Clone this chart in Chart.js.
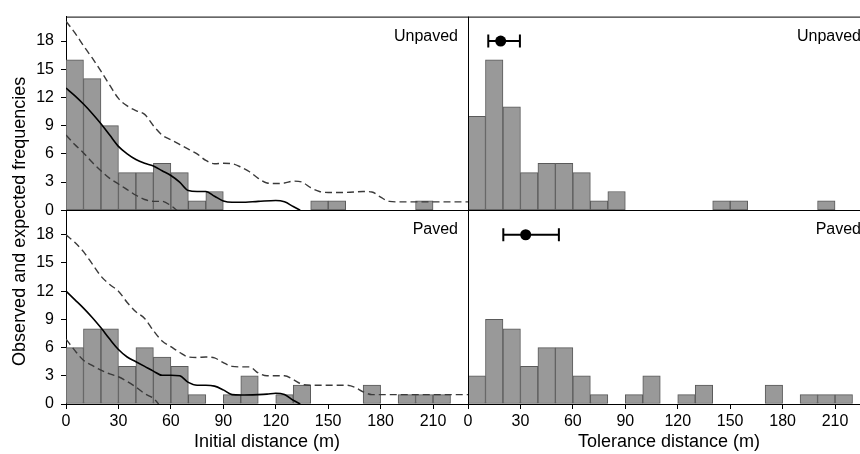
<!DOCTYPE html>
<html><head><meta charset="utf-8">
<script src="https://cdn.jsdelivr.net/npm/chart.js@4"></script>
<style>
html,body{margin:0;padding:0;background:#fff;overflow:hidden;width:860px;height:454px;}
#c{position:absolute;left:0;top:0;}
</style></head><body>
<canvas id="c" width="880" height="454"></canvas>
<script>
// ---- data ----
const binCenters = [5,15,25,35,45,55,65,75,85,95,105,115,125,135,145,155,165,175,185,195,205,215,225];
const unpavedInitial   = [16,14,9,4,4,5,4,1,2,0,0,0,0,0,1,1,0,0,0,0,1,0,0];
const unpavedTolerance = [10,16,11,4,5,5,4,1,2,0,0,0,0,0,1,1,0,0,0,0,1,0,0];
const pavedInitial     = [6,8,8,4,6,5,4,1,0,1,3,0,1,2,0,0,0,2,0,1,1,1,0];
const pavedTolerance   = [3,9,8,4,6,6,3,1,0,1,3,0,1,2,0,0,0,2,0,1,1,1,0];

const expUnpavedX = [0,5,10,15,20,25,30,35,40,45,50,55,60,65,70,75,80,85,90,95,100,110,120,125,130,134];
const expUnpavedY = [13,12.2,11.3,10.3,9.2,8.0,6.8,6.0,5.4,5.0,4.7,4.2,3.7,3.0,2.1,2.0,2.0,1.5,1.0,0.85,0.85,0.95,1.05,0.9,0.4,0];
const hiUnpavedX = [0,5,10,15,20,25,30,35,40,45,50,55,60,65,70,75,80,85,90,95,100,105,110,115,120,125,130,135,140,145,150,160,170,175,180,185,190,200,210,220,230];
const hiUnpavedY = [20.1,18.9,17.5,16.2,14.8,13.3,11.9,11.1,10.6,10.2,9.0,8.0,7.5,7.0,6.5,6.0,5.3,4.95,5.0,4.95,4.6,4.1,3.4,2.9,2.85,2.9,3.1,3.0,2.4,2.0,1.9,1.9,2.0,1.95,1.4,0.95,0.9,0.9,0.9,0.9,0.9];
const loUnpavedX = [0,5,10,15,20,25,30,35,40,45,50,55,60,63.5];
const loUnpavedY = [8.0,7.0,6.1,5.1,4.2,3.4,2.8,2.2,1.6,1.15,0.95,0.95,0.5,0];

const expPavedX = [0,5,10,15,20,25,30,35,40,45,50,55,60,65,70,75,80,85,90,95,100,110,115,120,125,130,134];
const expPavedY = [12.0,11.1,10.2,9.2,8.1,6.9,5.8,5.0,4.5,4.0,3.5,3.05,3.05,3.0,2.3,2.0,2.0,1.9,1.5,1.0,0.95,1.0,1.05,1.15,1.0,0.4,0];
const hiPavedX = [0,5,10,15,20,25,30,35,40,45,50,55,60,65,70,75,80,85,90,95,100,105,110,115,120,125,130,135,140,150,160,165,170,175,180,190,200,210,220,230];
const hiPavedY = [18,17.2,16.2,14.9,13.6,12.7,12.0,10.8,9.8,9.1,7.8,6.7,6.1,5.5,5.0,4.95,5.0,4.9,4.4,4.0,3.95,3.95,3.3,3.0,3.0,3.0,2.6,2.1,2.0,2.0,2.0,1.8,1.3,1.0,1.0,1.0,1.0,1.0,1.0,1.0];
const loPavedX = [0,5,10,15,20,25,30,35,40,45,50,53];
const loPavedY = [6.9,5.7,4.65,4.1,3.6,3.2,2.9,2.4,1.8,1.1,0.6,0];

// tolerance mean and interval [low, mean, high] at height 18
const tolUnpaved = [11.6, 18.7, 29.7];
const tolPaved   = [20.2, 33.0, 52.0];
const markerLevel = 18;

const xTicksStep = 30, yTicksStep = 3, xMax = 230, yMax = 20.6;
const panelLabels = ['Unpaved', 'Paved'];
const xTitles = ['Initial distance (m)', 'Tolerance distance (m)'];
const yTitle = 'Observed and expected frequencies';

// ---- chart ----
const FONT = '"Liberation Sans", Arial, Helvetica, sans-serif';
Chart.defaults.font.family = FONT;
Chart.defaults.color = '#000';

const pts = (xs, ys) => xs.map((x, i) => ({x, y: ys[i]}));
const bars = (vals) => binCenters.map((x, i) => ({x, y: vals[i] ? vals[i] : null}));

function barSet(vals, xa, ya) {
  return {type:'bar', data: bars(vals), xAxisID: xa, yAxisID: ya,
    backgroundColor:'#999999', borderColor:'#5a5a5a', borderWidth:1, borderSkipped:false,
    barPercentage:1, categoryPercentage:1, grouped:false};
}
function lineSet(xs, ys, xa, ya, dashed) {
  return {type:'line', data: pts(xs, ys), xAxisID: xa, yAxisID: ya,
    borderColor: dashed ? '#3a3a3a' : '#000', borderWidth: dashed ? 1.4 : 1.6,
    borderDash: dashed ? [7,4] : [], pointRadius:0, fill:false, cubicInterpolationMode:'monotone'};
}
function errSets(t, ya) {
  return [
    {type:'line', data:[{x:t[1], y:markerLevel}], xAxisID:'x2', yAxisID:ya, showLine:false,
      pointRadius:5.5, pointBackgroundColor:'#000', pointBorderColor:'#000', pointBorderWidth:0},
    {type:'line', data:[{x:t[0], y:markerLevel},{x:t[2], y:markerLevel}], xAxisID:'x2', yAxisID:ya,
      borderColor:'#000', borderWidth:2, pointStyle:'line', rotation:90, pointRadius:6.5,
      pointBorderColor:'#000', pointBorderWidth:2, fill:false}
  ];
}

const axisX = (title) => ({
  type:'linear', position:'bottom', stack:'x', stackWeight:1, min:0, max:xMax, offset:false,
  afterFit: s => { s.height = 50; },
  ticks:{stepSize:xTicksStep, includeBounds:false, autoSkip:false, maxRotation:0, font:{size:16}, padding:3, color:'#000'},
  grid:{offset:false, drawOnChartArea:false, drawTicks:true, tickLength:5, color:'#000'},
  border:{display:true, color:'#000', width:1},
  title:{display:true, text:title, font:{size:18}, color:'#000', padding:{top:0, bottom:1}}
});
const axisY = () => ({
  type:'linear', position:'left', stack:'y', stackWeight:1, min:0, max:yMax,
  afterFit: s => { s.width = 66; },
  ticks:{stepSize:yTicksStep, includeBounds:false, autoSkip:false, font:{size:16}, padding:7, color:'#000'},
  grid:{drawOnChartArea:false, drawTicks:true, tickLength:5, color:'#000'},
  border:{display:true, color:'#000', width:1}
});

const framePlugin = {
  id:'frame',
  afterDatasetsDraw(chart) {
    const c = chart.ctx, a = chart.chartArea, s = chart.scales;
    c.save();
    c.strokeStyle = '#000'; c.lineWidth = 1;
    c.beginPath();
    c.moveTo(a.left, a.top + 0.5); c.lineTo(a.right, a.top + 0.5);
    const mid = Math.round(s.yTop.bottom) + 0.5;
    c.moveTo(a.left, mid); c.lineTo(a.right, mid);
    const dv = Math.round(s.x2.left) + 0.5;
    c.moveTo(dv, a.top); c.lineTo(dv, a.bottom);
    c.moveTo(a.right - 0.5, a.top); c.lineTo(a.right - 0.5, a.bottom);
    c.stroke();
    // panel labels
    c.fillStyle = '#000';
    c.font = '16px ' + FONT;
    c.textAlign = 'right'; c.textBaseline = 'alphabetic';
    const panels = [[s.x1, s.yTop, 0], [s.x2, s.yTop, 0], [s.x1, s.yBot, 1], [s.x2, s.yBot, 1]];
    panels.forEach(([xs, ys, k]) => {
      const right = xs === s.x1 ? xs.right - 10 : xs.right - 9;
      c.fillText(panelLabels[k], right, ys.top + 24);
    });
    // y title
    c.font = '18px ' + FONT;
    c.textAlign = 'center';
    c.translate(25, (a.top + a.bottom) / 2 + 11);
    c.rotate(-Math.PI / 2);
    c.fillText(yTitle, 0, 0);
    c.restore();
  }
};

new Chart(document.getElementById('c'), {
  type:'bar',
  data:{datasets:[
    ...errSets(tolUnpaved, 'yTop'),
    ...errSets(tolPaved, 'yBot'),
    lineSet(expUnpavedX, expUnpavedY, 'x1', 'yTop', false),
    lineSet(hiUnpavedX, hiUnpavedY, 'x1', 'yTop', true),
    lineSet(loUnpavedX, loUnpavedY, 'x1', 'yTop', true),
    lineSet(expPavedX, expPavedY, 'x1', 'yBot', false),
    lineSet(hiPavedX, hiPavedY, 'x1', 'yBot', true),
    lineSet(loPavedX, loPavedY, 'x1', 'yBot', true),
    barSet(unpavedInitial, 'x1', 'yTop'),
    barSet(unpavedTolerance, 'x2', 'yTop'),
    barSet(pavedInitial, 'x1', 'yBot'),
    barSet(pavedTolerance, 'x2', 'yBot')
  ]},
  options:{
    responsive:false, animation:false, devicePixelRatio:1,
    layout:{padding:{top:12, right:10, left:0, bottom:0}},
    plugins:{legend:{display:false}, tooltip:{enabled:false}, title:{display:false}},
    scales:{
      x1: axisX(xTitles[0]),
      x2: axisX(xTitles[1]),
      yBot: axisY(),
      yTop: axisY()
    }
  },
  plugins:[framePlugin]
});
</script>
</body></html>
